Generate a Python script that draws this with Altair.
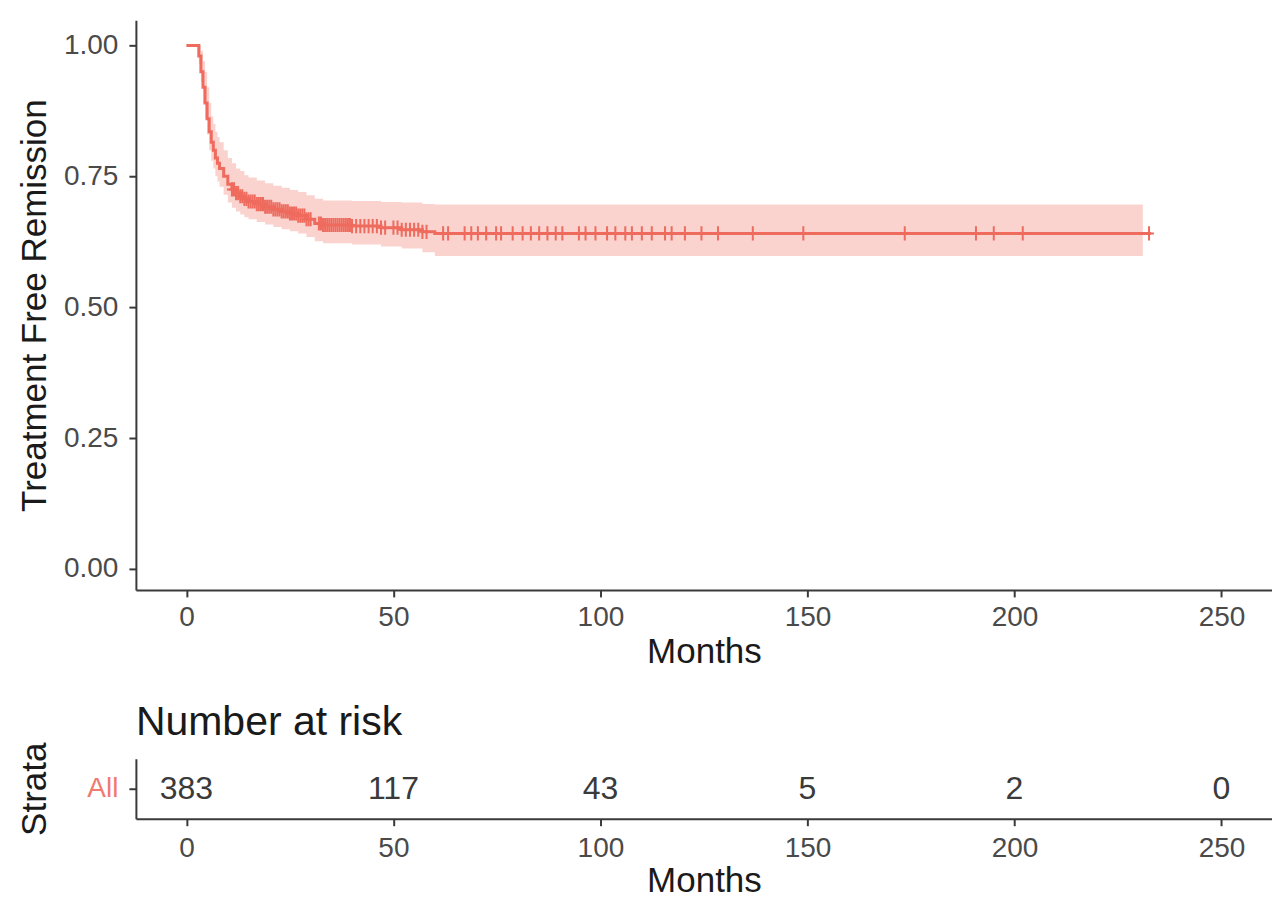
import altair as alt
import pandas as pd
import numpy as np

# Kaplan-Meier estimate
km_time = [0, 3, 3.5, 4, 4.5, 5, 5.5, 6, 6.5, 7, 7.5, 8, 9, 10, 11, 12, 13, 14, 15, 17, 19, 21, 23, 25, 27, 29, 31, 33, 40, 47, 52, 57, 60, 233]
km_surv = [1.0, 0.98, 0.95, 0.92, 0.89, 0.86, 0.835, 0.815, 0.80, 0.785, 0.775, 0.765, 0.75, 0.735, 0.725, 0.718, 0.712, 0.707, 0.702, 0.697, 0.692, 0.687, 0.683, 0.679, 0.675, 0.668, 0.66, 0.657, 0.655, 0.652, 0.648, 0.644, 0.641, 0.641]
km_upper = [1.0, 1.0, 0.99, 0.97, 0.95, 0.92, 0.89, 0.865, 0.85, 0.835, 0.825, 0.815, 0.80, 0.785, 0.775, 0.765, 0.76, 0.752, 0.748, 0.742, 0.737, 0.732, 0.728, 0.724, 0.72, 0.714, 0.707, 0.704, 0.703, 0.701, 0.70, 0.697, 0.696, 0.696]
km_lower = [1.0, 0.965, 0.93, 0.89, 0.86, 0.83, 0.80, 0.78, 0.765, 0.75, 0.74, 0.73, 0.715, 0.70, 0.69, 0.683, 0.677, 0.672, 0.668, 0.663, 0.658, 0.653, 0.649, 0.645, 0.641, 0.634, 0.626, 0.622, 0.62, 0.616, 0.612, 0.605, 0.598, 0.598]
band_end = 231

# Censoring times
censor_times = [11, 11.5, 12, 12.5, 13, 13.5, 14, 14.5, 15, 15.5, 16, 16.5, 17, 17.5, 18, 18.5,
                19, 19.5, 20, 20.5, 21, 21.5, 22, 22.5, 23, 23.5, 24, 24.5, 25, 25.5, 26, 26.5,
                27, 27.5, 28, 28.5, 29, 29.5, 30, 32, 32.5, 33, 33.5, 34, 34.5, 35, 35.5, 36,
                36.5, 37, 37.5, 38, 38.5, 39, 39.5, 40, 41, 42, 43, 44, 45, 46, 47, 48, 50, 51,
                52, 53, 54, 55, 56, 57, 58, 62, 63.2, 67.2, 68.8, 70.4, 72.4, 74.8, 76, 78.8,
                81.2, 83.2, 85.2, 87.2, 89.2, 90.8, 94.8, 96.4, 98.8, 101.6, 103.6, 106, 107.6,
                110, 112.4, 115.6, 117.2, 120.4, 124.4, 128.4, 136.8, 149, 173.5, 190.7, 195,
                202, 232.5]

# Number at risk table
risk_time = [0, 50, 100, 150, 200, 250]
risk_n = [383, 117, 43, 5, 2, 0]
strata = ["All"]

x_ticks = [0, 50, 100, 150, 200, 250]
y_ticks = [0, 0.25, 0.5, 0.75, 1.0]

RED = "#EE6B5E"
FONT = "Liberation Sans"

km = pd.DataFrame({"time": km_time, "surv": km_surv, "upper": km_upper, "lower": km_lower})
band = km.copy()
band.loc[band.index[-1], "time"] = band_end

idx = np.searchsorted(np.array(km_time), np.array(censor_times), side="right") - 1
cens = pd.DataFrame({"time": censor_times, "surv": np.array(km_surv)[idx]})

risk = pd.DataFrame({"time": risk_time, "n": risk_n, "strata": strata * len(risk_time)})

xscale = alt.Scale(domain=[-12.2, 262.2], nice=False, zero=False)
yscale = alt.Scale(domain=[-0.04, 1.048], nice=False, zero=False)

axis_common = dict(grid=False, domainColor="#3a3a3a", domainWidth=2, tickColor="#3a3a3a",
                   tickWidth=2, tickSize=7, labelFont=FONT, labelFontSize=28,
                   labelColor="#4a4a4a", titleFont=FONT, titleFontSize=35,
                   titleFontWeight="normal", titleColor="#1a1a1a")

xaxis = alt.Axis(values=x_ticks, title="Months", labelPadding=7, titlePadding=3, **axis_common)
yaxis = alt.Axis(values=y_ticks, format=".2f", title="Treatment Free Remission",
                 labelPadding=11, titlePadding=11, **axis_common)

area = alt.Chart(band).mark_area(interpolate="step-after", color=RED, opacity=0.3).encode(
    x=alt.X("time:Q", scale=xscale, axis=xaxis),
    y=alt.Y("upper:Q", scale=yscale, axis=yaxis),
    y2="lower:Q",
)
line = alt.Chart(km).mark_line(interpolate="step-after", color=RED, strokeWidth=3).encode(
    x=alt.X("time:Q", scale=xscale),
    y=alt.Y("surv:Q", scale=yscale),
)
marks = alt.Chart(cens).mark_point(shape="M-0.7,0L0.7,0M0,-1L0,1", filled=False, color=RED,
                                   strokeWidth=2, size=200, opacity=1).encode(
    x=alt.X("time:Q", scale=xscale),
    y=alt.Y("surv:Q", scale=yscale),
)
top = alt.layer(area, line, marks).properties(width=1137, height=570)

bx_axis = alt.Axis(values=x_ticks, title="Months", labelPadding=9, titlePadding=1, **axis_common)
by_axis = alt.Axis(title="Strata", labelColor="#F07A70", labelFontSize=28, labelFont=FONT,
                   grid=False, domainColor="#3a3a3a", domainWidth=2, tickColor="#3a3a3a",
                   tickWidth=2, tickSize=7, labelPadding=11, titleFont=FONT, titleFontSize=35,
                   titleFontWeight="normal", titleColor="#1a1a1a", titlePadding=34)

bottom = alt.Chart(risk).mark_text(font=FONT, fontSize=32, color="#3a3a3a").encode(
    x=alt.X("time:Q", scale=xscale, axis=bx_axis),
    y=alt.Y("strata:N", axis=by_axis, scale=alt.Scale(domain=strata)),
    text="n:Q",
).properties(
    width=1137, height=60,
    title=alt.TitleParams("Number at risk", anchor="start", frame="group", font=FONT,
                          fontSize=41, fontWeight="normal", color="#1a1a1a", offset=-2),
)

chart = alt.vconcat(top, bottom, spacing=32).properties(
    padding={"left": 9, "top": 12, "right": 0, "bottom": 0}
).configure(background="white").configure_view(stroke="transparent", strokeWidth=0)

chart.save("out.html", embed_options={"renderer": "svg", "actions": False})
